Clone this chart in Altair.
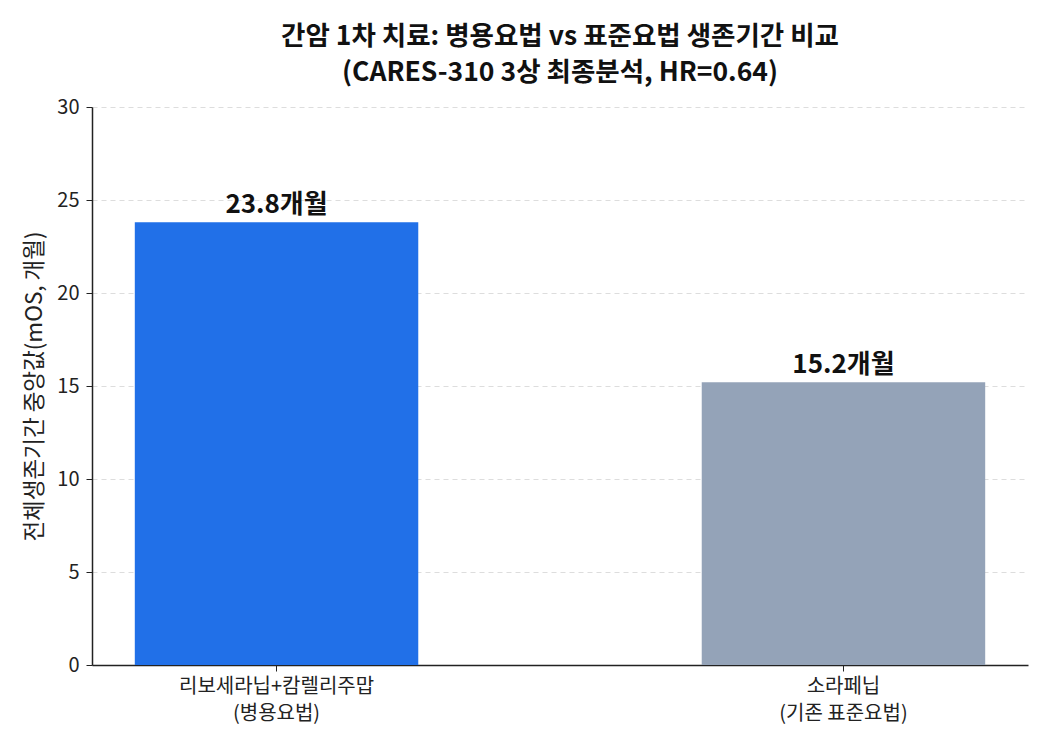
import altair as alt
import pandas as pd

categories = ["리보세라닙+캄렐리주맙\n(병용요법)", "소라페닙\n(기존 표준요법)"]
values = [23.8, 15.2]
labels = ["23.8개월", "15.2개월"]
colors = ["#2170E8", "#94A3B8"]

df = pd.DataFrame({"cat": categories, "val": values, "label": labels})

FONT = "Noto Sans CJK KR"

x_enc = alt.X(
    "cat:N",
    sort=categories,
    scale=alt.Scale(paddingInner=0.5, paddingOuter=0.0755),
    axis=alt.Axis(
        title=None,
        labelAngle=0,
        labelFontSize=20,
        labelColor="#222222",
        labelFont=FONT,
        labelExpr="split(datum.label, '\\n')",
        labelLineHeight=27,
        labelLimit=0,
        labelPadding=5,
        tickSize=6,
        tickColor="#222222",
        domainColor="#222222",
        domainWidth=1.5,
        grid=False,
    ),
)

bars = alt.Chart(df).mark_bar().encode(
    x=x_enc,
    y=alt.Y(
        "val:Q",
        scale=alt.Scale(domain=[0, 30]),
        axis=alt.Axis(
            title="전체생존기간 중앙값(mOS, 개월)",
            titleFontSize=22.5,
            titleFontWeight="normal",
            titleFont=FONT,
            titleColor="#222222",
            titlePadding=10,
            values=[0, 5, 10, 15, 20, 25, 30],
            labelFontSize=20,
            labelFont=FONT,
            labelColor="#222222",
            labelPadding=7,
            tickSize=6,
            tickColor="#222222",
            domainColor="#222222",
            domainWidth=1.5,
            grid=True,
            gridColor="#dddddd",
            gridDash=[5, 4],
            gridWidth=1,
        ),
    ),
    color=alt.Color("cat:N", sort=categories,
                    scale=alt.Scale(domain=categories, range=colors), legend=None),
)

text = alt.Chart(df).mark_text(
    baseline="bottom", dy=-4, fontSize=26, fontWeight="bold", font=FONT, color="#111111"
).encode(
    x=alt.X("cat:N", sort=categories),
    y="val:Q",
    text="label:N",
)

chart = (
    alt.layer(bars, text)
    .properties(
        width=936,
        height=558,
        title=alt.TitleParams(
            text=["간암 1차 치료: 병용요법 vs 표준요법 생존기간 비교", "(CARES-310 3상 최종분석, HR=0.64)"],
            fontSize=26.5,
            fontWeight="bold",
            font=FONT,
            color="#111111",
            lineHeight=36,
            anchor="middle",
            offset=11,
        ),
        autosize=alt.AutoSizeParams(type="none"),
        padding={"left": 84, "top": 99, "right": 14, "bottom": 70},
    )
    .configure_view(stroke=None)
)

chart.save("out.html", embed_options={"renderer": "svg", "actions": False})
